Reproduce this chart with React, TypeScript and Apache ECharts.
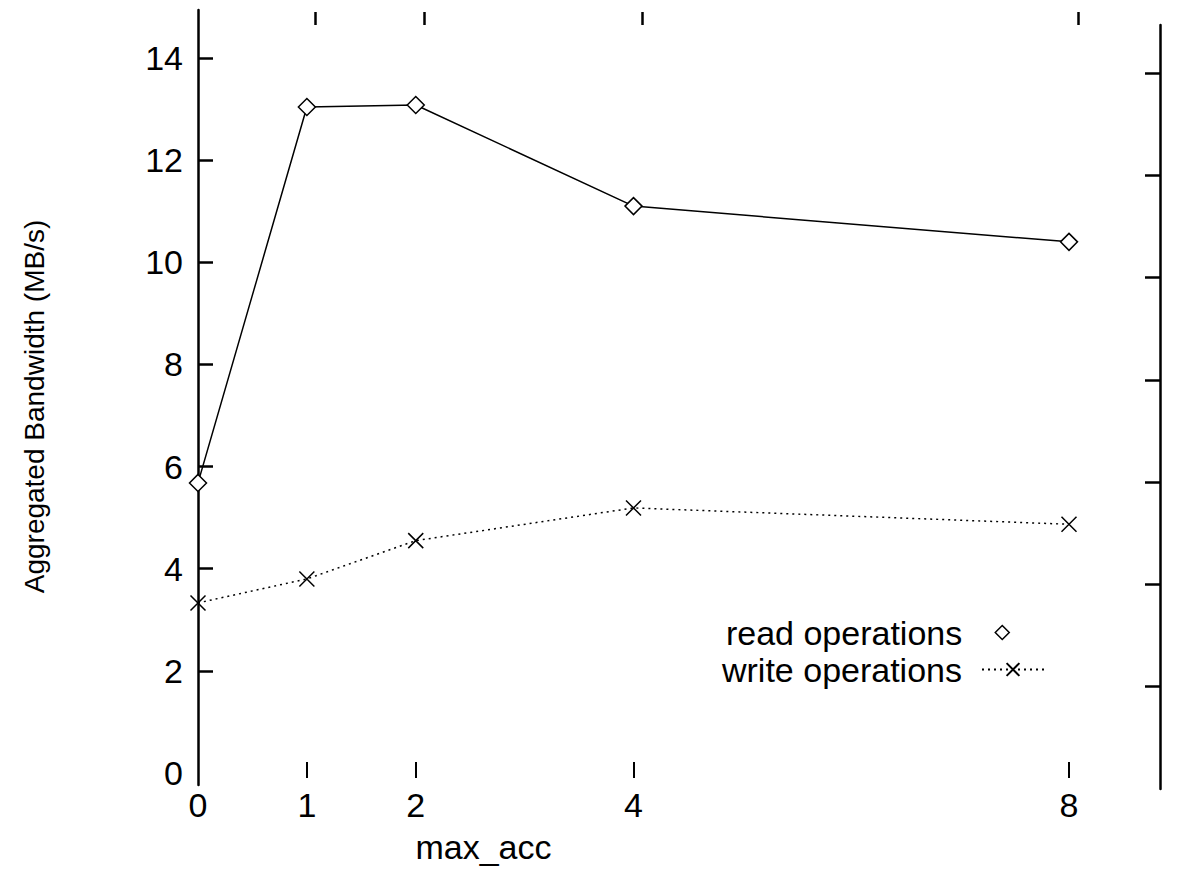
import React, { useEffect, useRef } from "react";
import * as echarts from "echarts";

const xValues = [0, 1, 2, 4, 8];
const readOps = [5.68, 13.04, 13.08, 11.1, 10.4];
const writeOps = [3.33, 3.8, 4.55, 5.19, 4.87];
const xTickLabels = [0, 1, 2, 4, 8];
const yTickLabels = [0, 2, 4, 6, 8, 10, 12, 14];

const FONT = "Liberation Sans";
const FS = 34;

export default function App() {
  const ref = useRef<HTMLDivElement>(null);
  useEffect(() => {
    if (!ref.current) return;
    const chart = echarts.init(ref.current, null, { renderer: "svg" });
    const axisLineStyle = { color: "#000", width: 2.5 };
    chart.setOption({
      animation: false,
      backgroundColor: "#fff",
      grid: [
        { left: 198, right: 120, top: 10, bottom: 89, outerBoundsMode: "none", containLabel: false },
        { left: 206, right: 29, top: 25, bottom: 85, outerBoundsMode: "none", containLabel: false },
      ],
      xAxis: [
        {
          type: "value",
          gridIndex: 0,
          min: 0,
          max: 8,
          position: "bottom",
          offset: -7,
          axisLine: { show: false, onZero: false },
          splitLine: { show: false },
          axisTick: {
            show: true,
            inside: true,
            length: 16,
            customValues: xTickLabels.filter((v) => v !== 0),
            lineStyle: { color: "#000", width: 2 },
          },
          axisLabel: {
            customValues: xTickLabels,
            fontSize: FS,
            fontFamily: FONT,
            color: "#000",
            margin: 10,
          },
          name: "max_acc",
          nameLocation: "middle",
          nameGap: 48,
          nameTextStyle: {
            fontSize: FS,
            fontFamily: FONT,
            color: "#000",
            lineHeight: 40,
            padding: [0, 300, 0, 0],
          },
        },
        {
          type: "value",
          gridIndex: 1,
          min: 0,
          max: 8.75,
          position: "top",
          axisLine: { show: false, onZero: false },
          splitLine: { show: false },
          axisTick: {
            show: true,
            length: 13,
            customValues: [1, 2, 4, 8],
            lineStyle: { color: "#000", width: 2.5 },
          },
          axisLabel: { show: false },
        },
      ],
      yAxis: [
        {
          type: "value",
          gridIndex: 0,
          min: -0.235,
          max: 14.94,
          position: "left",
          axisLine: { show: true, onZero: false, lineStyle: axisLineStyle },
          splitLine: { show: false },
          axisTick: {
            show: true,
            inside: true,
            length: 15,
            customValues: yTickLabels.filter((v) => v !== 0),
            lineStyle: { color: "#000", width: 2.5 },
          },
          axisLabel: {
            customValues: yTickLabels,
            fontSize: FS,
            fontFamily: FONT,
            color: "#000",
            margin: 15,
          },
          name: "Aggregated Bandwidth (MB/s)",
          nameLocation: "middle",
          nameRotate: 90,
          nameGap: 150,
          nameTextStyle: {
            fontSize: 28,
            fontFamily: FONT,
            color: "#000",
            padding: [0, 18, 0, 0],
          },
        },
        {
          type: "value",
          gridIndex: 1,
          min: 0,
          max: 14.94,
          position: "right",
          axisLine: { show: true, onZero: false, lineStyle: axisLineStyle },
          splitLine: { show: false },
          axisTick: {
            show: true,
            inside: true,
            length: 15,
            customValues: yTickLabels.filter((v) => v !== 0),
            lineStyle: { color: "#000", width: 2.5 },
          },
          axisLabel: { show: false },
        },
      ],
      legend: [
        {
          data: [
            {
              name: "read operations",
              icon: "diamond",
              itemStyle: { color: "#fff", borderColor: "#000", borderWidth: 1.5 },
            },
          ],
          orient: "vertical",
          align: "right",
          right: 179,
          top: 614,
          padding: 0,
          itemWidth: 14,
          itemHeight: 14,
          itemGap: 0,
          textStyle: {
            fontSize: FS,
            fontFamily: FONT,
            color: "#000",
            lineHeight: 37,
            padding: [0, 28, 0, 0],
          },
        },
        {
          data: ["write operations"],
          orient: "vertical",
          align: "right",
          right: 144,
          top: 651,
          padding: 0,
          itemWidth: 62,
          itemHeight: 16,
          itemGap: 0,
          textStyle: {
            fontSize: FS,
            fontFamily: FONT,
            color: "#000",
            lineHeight: 37,
            padding: [0, 15, 0, 0],
          },
        },
      ],
      series: [
        {
          name: "read operations",
          type: "line",
          xAxisIndex: 0,
          yAxisIndex: 0,
          data: xValues.map((x, i) => [x, readOps[i]]),
          symbol: "diamond",
          symbolSize: 17,
          lineStyle: { color: "#000", width: 1.5, type: "solid" },
          itemStyle: { color: "#fff", borderColor: "#000", borderWidth: 1.5 },
        },
        {
          name: "write operations",
          type: "line",
          xAxisIndex: 0,
          yAxisIndex: 0,
          data: xValues.map((x, i) => [x, writeOps[i]]),
          symbol: "path://M0,0L10,10M10,0L0,10",
          symbolSize: 15,
          lineStyle: { color: "#000", width: 1.5, type: [2, 4] },
          itemStyle: { color: "rgba(0,0,0,0)", borderColor: "#000", borderWidth: 1.5 },
        },
      ],
    });
    return () => chart.dispose();
  }, []);
  return (
    <div
      ref={ref}
      style={{ width: 1189, height: 874, margin: -8, overflow: "hidden" }}
    />
  );
}
